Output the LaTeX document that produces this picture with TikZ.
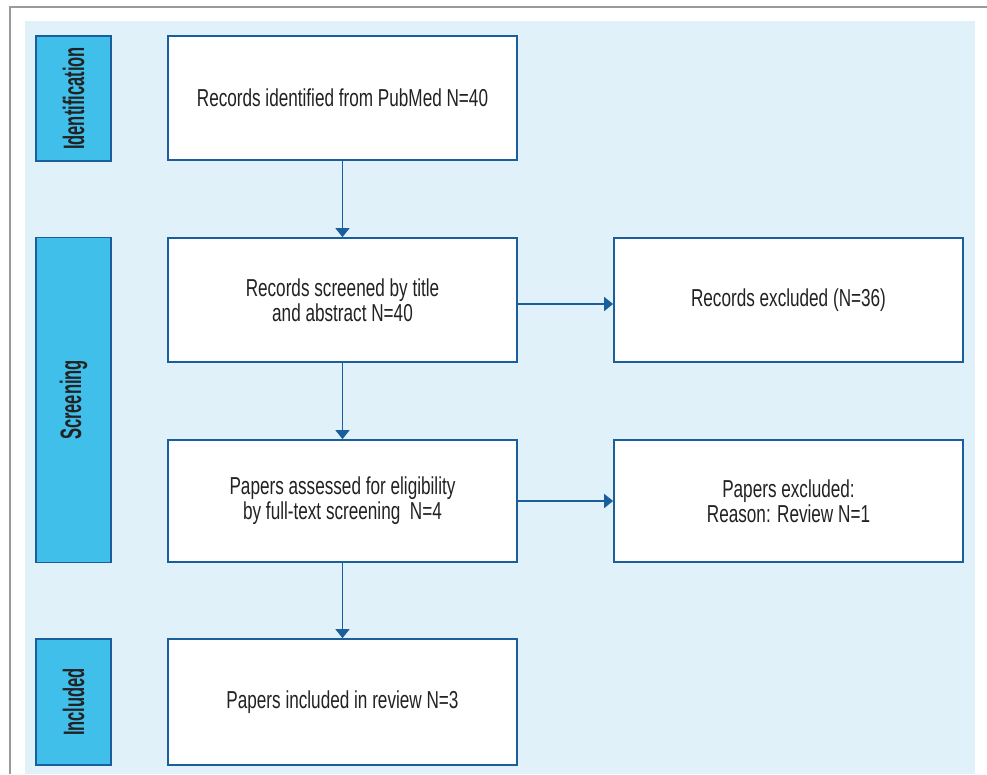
\documentclass[tikz,border=0pt]{standalone}
\usepackage{fontspec}
\setmainfont{Liberation Sans}[FakeStretch=0.70]
\newfontfamily\sidefont{Liberation Sans}[FakeStretch=0.56, UprightFont=*-Bold]
\usetikzlibrary{arrows.meta}
\definecolor{bgblue}{HTML}{E0F1FA}
\definecolor{sidefill}{HTML}{40BFEB}
\definecolor{edgeblue}{HTML}{1A5E9C}
\definecolor{framegray}{HTML}{9A9A9A}
\definecolor{txt}{HTML}{222222}
\tikzset{
  mainbox/.style={draw=edgeblue, line width=1.8pt, fill=white, minimum width=349pt, minimum height=124pt, inner sep=0pt, text=txt, align=center, font=\fontsize{24.5}{25}\selectfont},
  sidebox/.style={draw=edgeblue, line width=1.8pt, fill=sidefill, minimum width=75pt, inner sep=0pt},
  sidelabel/.style={rotate=90, text=txt, font=\sidefont\fontsize{29.5}{30}\selectfont},
  flow/.style={draw=edgeblue, line width=1.8pt, -{Triangle[length=9pt,width=14pt]}}
}
\begin{document}
\begin{tikzpicture}[x=1pt,y=-1pt]
\useasboundingbox (0,0) rectangle (987,774);
\fill[white] (0,0) rectangle (987,774);
\draw[framegray, line width=1.6pt] (10,774) -- (10,7) -- (987,7);
\fill[bgblue] (25,21) rectangle (975,774);
% side boxes
\node[sidebox, minimum height=125pt] (sid) at (73.5,98.5) {};
\node[sidelabel] (sidl) at (sid.center) {Identification};
\node[sidebox, minimum height=325pt] (sscr) at (73.5,400) {};
\node[sidelabel] (sscrl) at (sscr.center) {Screening};
\node[sidebox, minimum height=126pt] (sinc) at (73.5,702) {};
\node[sidelabel] (sincl) at (sinc.center) {Included};
% main boxes
\node[mainbox] (b1) at (342.5,98) {Records identified from PubMed N=40};
\node[mainbox] (b2) at (342.5,300) {Records screened by title\\and abstract N=40};
\node[mainbox] (r1) at (788.5,300) {Records excluded (N=36)};
\node[mainbox, minimum height=122pt] (b3) at (342.5,501) {Papers assessed for eligibility\\by full-text screening~~N=4};
\node[mainbox, minimum height=122pt] (r2) at (788.5,501) {Papers excluded:\\Reason: Review N=1};
\node[mainbox, minimum height=126pt] (b4) at (342.5,702) {Papers included in review N=3};
% connectors
\draw[flow] (b1.south) -- (b2.north);
\draw[flow] (b2.south) -- (b3.north);
\draw[flow] (b3.south) -- (b4.north);
\draw[flow] ([yshift=-4pt]b2.east) -- ([yshift=-4pt]b2.east -| r1.west);
\draw[flow] (b3.east) -- (b3.east -| r2.west);
\end{tikzpicture}
\end{document}
